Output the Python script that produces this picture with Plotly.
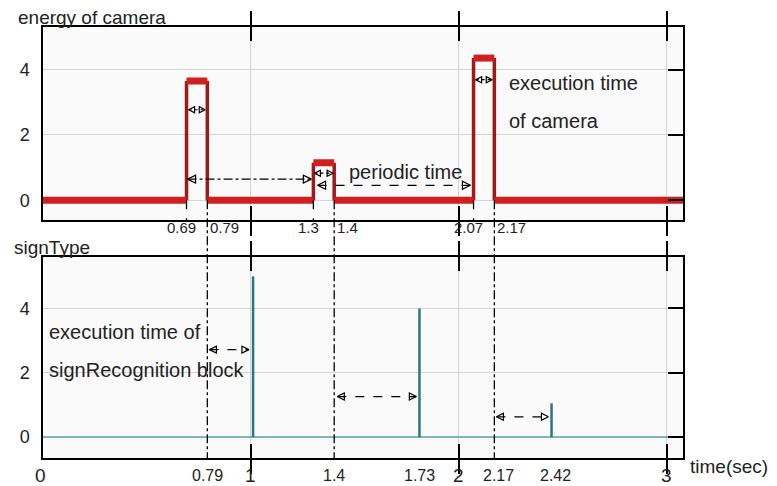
import plotly.graph_objects as go

# camera energy pulses (top panel)
cam_on = [0.69, 1.3, 2.07]
cam_off = [0.79, 1.4, 2.17]
cam_energy = [3.65, 1.15, 4.35]
t_end = 3.077

# signRecognition output spikes (bottom panel)
sign_time = [1.01, 1.81, 2.445]
sign_value = [5.0, 4.0, 1.05]

# bottom panel tick labels (hand-placed in the original)
bottom_tick_vals = [0, 0.79, 1, 1.4, 1.81, 2, 2.17, 2.445, 3]
bottom_tick_text = ["0", "0.79", "1", "1.4", "1.73", "2", "2.17", "2.42", "3"]

# annotation arrows, top panel
top_arrow_x0 = [0.70, 0.695, 1.305, 1.32, 2.08]
top_arrow_x1 = [0.78, 1.29, 1.395, 2.055, 2.16]
top_arrow_y = [2.77, 0.65, 0.83, 0.46, 3.69]
top_arrow_dash = ["dot", "dashdot", "dot", "dash", "dot"]

# annotation arrows, bottom panel
bot_arrow_x0 = [0.80, 1.415, 2.18]
bot_arrow_x1 = [0.99, 1.795, 2.43]
bot_arrow_y = [2.72, 1.26, 0.63]

FONT = "Liberation Sans, Arial, sans-serif"
TXT = "#222222"

top_dom = [0.5522, 1.0]
bot_dom = [0.0, 0.4664]
top_yr = [-0.6, 5.3]
bot_yr = [-0.65, 5.6]


def paper_y(val, dom, rng):
    return dom[0] + (val - rng[0]) / (rng[1] - rng[0]) * (dom[1] - dom[0])


fig = go.Figure()

# --- top panel: step signal, thick horizontals + thinner edges
hx, hy, vx, vy = [], [], [], []
prev = 0.0
for on, off, e in zip(cam_on, cam_off, cam_energy):
    hx += [prev, on, None, on, off, None]
    hy += [0, 0, None, e, e, None]
    vx += [on, on, None, off, off, None]
    vy += [0, e, None, e, 0, None]
    prev = off
hx += [prev, t_end]
hy += [0, 0]

fig.add_trace(go.Scatter(x=vx, y=vy, mode="lines", xaxis="x", yaxis="y",
                         line=dict(color="#9c1a1a", width=3.5), hoverinfo="skip"))
fig.add_trace(go.Scatter(x=hx, y=hy, mode="lines", xaxis="x", yaxis="y",
                         line=dict(color="#d01f1f", width=7), hoverinfo="skip"))

# --- bottom panel: baseline + spikes
fig.add_trace(go.Scatter(x=[0, t_end], y=[0, 0], mode="lines", xaxis="x2", yaxis="y2",
                         line=dict(color="#5fa3b3", width=1.5), hoverinfo="skip"))
sx, sy = [], []
for t, v in zip(sign_time, sign_value):
    sx += [t, t, None]
    sy += [0, v, None]
fig.add_trace(go.Scatter(x=sx, y=sy, mode="lines", xaxis="x2", yaxis="y2",
                         line=dict(color="#2b7585", width=2.5), hoverinfo="skip"))


def add_arrow(x0, x1, y, dash, xa, ya, size):
    fig.add_trace(go.Scatter(
        x=[x0, x1], y=[y, y], mode="lines+markers", xaxis=xa, yaxis=ya,
        line=dict(color="black", width=1.2, dash=dash),
        marker=dict(symbol=["arrow-left-open", "arrow-right-open"], size=size,
                    color="black", line=dict(color="black", width=1.2)),
        hoverinfo="skip"))


for x0, x1, y, d in zip(top_arrow_x0, top_arrow_x1, top_arrow_y, top_arrow_dash):
    add_arrow(x0, x1, y, d, "x", "y", 6 if d == "dot" else 8)
for x0, x1, y in zip(bot_arrow_x0, bot_arrow_x1, bot_arrow_y):
    add_arrow(x0, x1, y, "dash", "x2", "y2", 7)

# dummy traces so the right-hand tick axes are drawn
fig.add_trace(go.Scatter(x=[None], y=[None], xaxis="x", yaxis="y3", showlegend=False))
fig.add_trace(go.Scatter(x=[None], y=[None], xaxis="x2", yaxis="y4", showlegend=False))

# dashed guide lines
y0_top = paper_y(0, top_dom, top_yr)
for t in cam_off:
    fig.add_shape(type="line", xref="x", yref="paper", x0=t, x1=t, y0=y0_top, y1=0,
                  line=dict(color="black", width=1.3, dash="dashdot"))
for t in cam_on:
    fig.add_shape(type="line", xref="x", yref="paper", x0=t, x1=t, y0=y0_top,
                  y1=top_dom[0], line=dict(color="black", width=1.3, dash="dash"))

xcommon = dict(range=[0, t_end], tickvals=[1, 2, 3], ticks="inside", ticklen=14,
               tickcolor="black", tickwidth=1.5, showticklabels=False,
               showline=True, linecolor="black", linewidth=1.5, mirror="allticks",
               showgrid=True, gridcolor="#d4d4d4", gridwidth=1, zeroline=False)
ycommon = dict(tickvals=[0, 2, 4], ticks="", showline=True, linecolor="black",
               linewidth=1.5, mirror=True, showgrid=True, gridcolor="#d4d4d4",
               zeroline=False, tickfont=dict(size=18, color=TXT, family=FONT),
               ticklabelstandoff=8)
yright = dict(tickvals=[0, 2, 4], ticks="inside", ticklen=15, tickcolor="black",
              tickwidth=1.5, showticklabels=False, showgrid=False, showline=False,
              zeroline=False, side="right")

# page body adds an 8px margin, so the figure is 8px smaller than the window
fig.update_layout(
    width=769, height=478, autosize=False,
    margin=dict(l=33, r=94, t=19, b=28),
    paper_bgcolor="white", plot_bgcolor="#fafafa",
    showlegend=False,
    xaxis=dict(domain=[0, 1], anchor="y", **xcommon),
    xaxis2=dict(domain=[0, 1], anchor="y2", **xcommon),
    yaxis=dict(domain=top_dom, range=top_yr, anchor="x", **ycommon),
    yaxis2=dict(domain=bot_dom, range=bot_yr, anchor="x2", **ycommon),
    yaxis3=dict(overlaying="y", anchor="x", range=top_yr, **yright),
    yaxis4=dict(overlaying="y2", anchor="x2", range=bot_yr, **yright),
    font=dict(family=FONT, color=TXT),
)

ann = []
# top tick labels
for t in cam_on:
    ann.append(dict(x=t, y=top_dom[0], xref="x", yref="paper", text=f"{t:g}",
                    xanchor="center", yanchor="top", xshift=-5, yshift=3,
                    showarrow=False, font=dict(size=15)))
for t in cam_off:
    ann.append(dict(x=t, y=top_dom[0], xref="x", yref="paper", text=f"{t:g}",
                    xanchor="left", yanchor="top", xshift=1, yshift=3,
                    showarrow=False, font=dict(size=15)))
# bottom tick labels
for v, s in zip(bottom_tick_vals, bottom_tick_text):
    big = "." not in s
    ann.append(dict(x=v, y=0, xref="x2", yref="paper", text=s, xanchor="center",
                    yanchor="top", yshift=-5 if big else -7,
                    xshift=-3 if v == 0 else (4 if v in (2.17, 2.445) else 0),
                    showarrow=False, font=dict(size=19 if big else 16)))

# axis titles
ann += [
    dict(x=0, y=1, xref="paper", yref="paper", text="energy of camera", xanchor="left",
         yanchor="bottom", xshift=-27, yshift=-3, showarrow=False, font=dict(size=19)),
    dict(x=0, y=bot_dom[1], xref="paper", yref="paper", text="signType", xanchor="left",
         yanchor="bottom", xshift=-31, yshift=-3, showarrow=False, font=dict(size=19)),
    dict(x=1, y=0, xref="paper", yref="paper", text="time(sec)", xanchor="left",
         yanchor="middle", xshift=5, yshift=-8, showarrow=False, font=dict(size=19)),
]

# explanatory text
ann += [
    dict(x=1.46, y=0.86, xref="x", yref="y", text="periodic time", xanchor="left",
         showarrow=False, font=dict(size=20)),
    dict(x=2.23, y=3.6, xref="x", yref="y", text="execution time", xanchor="left",
         showarrow=False, font=dict(size=20)),
    dict(x=2.23, y=2.43, xref="x", yref="y", text="of camera", xanchor="left",
         showarrow=False, font=dict(size=20)),
    dict(x=0.017, y=3.28, xref="x2", yref="y2", text="execution time of", xanchor="left",
         showarrow=False, font=dict(size=20)),
    dict(x=0.017, y=2.1, xref="x2", yref="y2", text="signRecognition block", xanchor="left",
         showarrow=False, font=dict(size=20)),
]
fig.update_layout(annotations=ann)

fig.write_html("out.html")
